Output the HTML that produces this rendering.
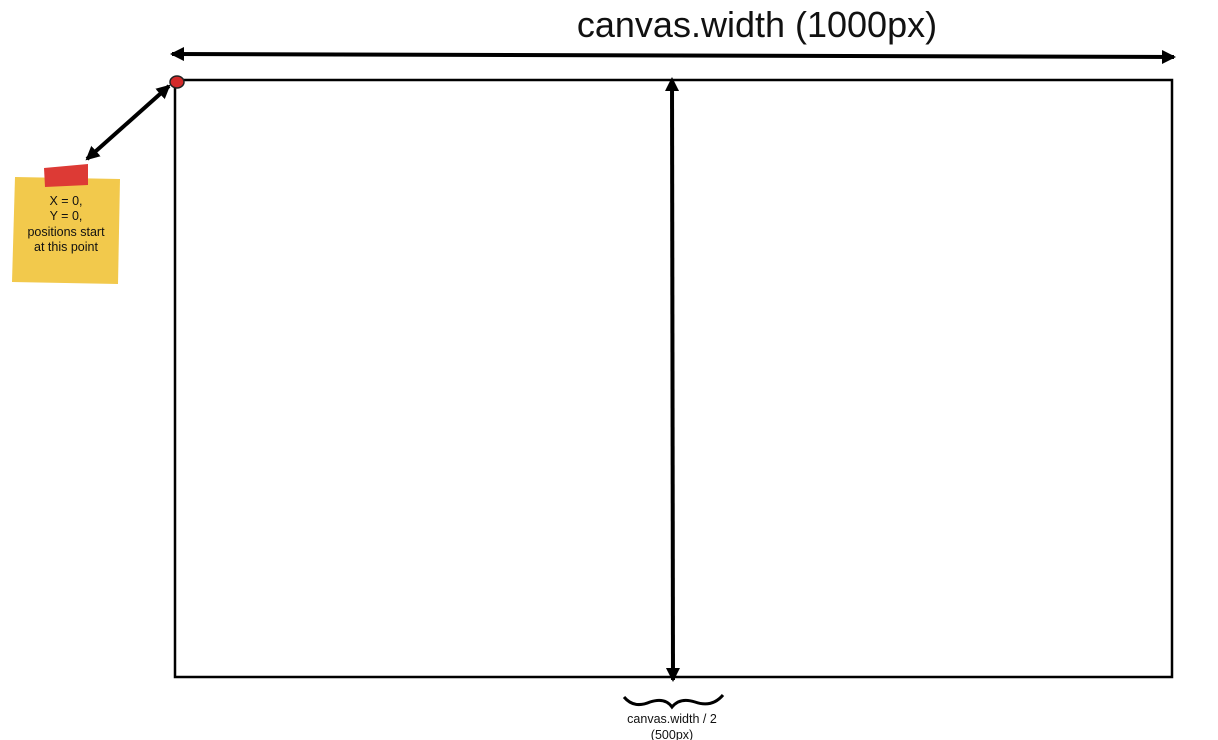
<!DOCTYPE html>
<html><head><meta charset="utf-8"><style>
html,body{margin:0;padding:0;background:#fff;width:1218px;height:740px;overflow:hidden}
svg{display:block}
text{font-family:"Liberation Sans",sans-serif;fill:#111}
</style></head><body>
<svg width="1218" height="740" viewBox="0 0 1218 740">
<defs>
<marker id="ah" markerWidth="16" markerHeight="16" refX="12" refY="7" orient="auto-start-reverse" markerUnits="userSpaceOnUse">
<path d="M0,0 L14,7 L0,14 Z" fill="#000"/></marker>
</defs>
<text x="757" y="37" font-size="36" text-anchor="middle">canvas.width (1000px)</text>
<line x1="172" y1="54" x2="1174" y2="57" stroke="#000" stroke-width="4" marker-start="url(#ah)" marker-end="url(#ah)"/>
<rect x="175" y="80" width="997" height="597" fill="none" stroke="#000" stroke-width="2.5"/>
<line x1="672" y1="79" x2="673" y2="680" stroke="#000" stroke-width="4" marker-start="url(#ah)" marker-end="url(#ah)"/>
<ellipse cx="177" cy="82" rx="7" ry="6" fill="#d42a2a" stroke="#222" stroke-width="1.5"/>
<line x1="169" y1="86" x2="87" y2="159" stroke="#000" stroke-width="4" marker-start="url(#ah)" marker-end="url(#ah)"/>
<g>
<polygon points="15,177 120,179 118,284 12,282" fill="#f2c94c"/>
<polygon points="44,168 88,164 88,185 45,187" fill="#dd3a35"/>
<text font-size="12.5" text-anchor="middle">
<tspan x="66" y="205">X = 0,</tspan><tspan x="66" y="220">Y = 0,</tspan><tspan x="66" y="236">positions start</tspan><tspan x="66" y="251">at this point</tspan></text>
</g>
<path d="M624,697 Q634,709 650,702 Q665,697 672,707 Q680,697 695,702 Q712,708 723,695" fill="none" stroke="#000" stroke-width="3"/>
<text x="672" y="723" font-size="12.5" text-anchor="middle">canvas.width / 2</text>
<text x="672" y="739" font-size="12.5" text-anchor="middle">(500px)</text>
</svg>
</body></html>
